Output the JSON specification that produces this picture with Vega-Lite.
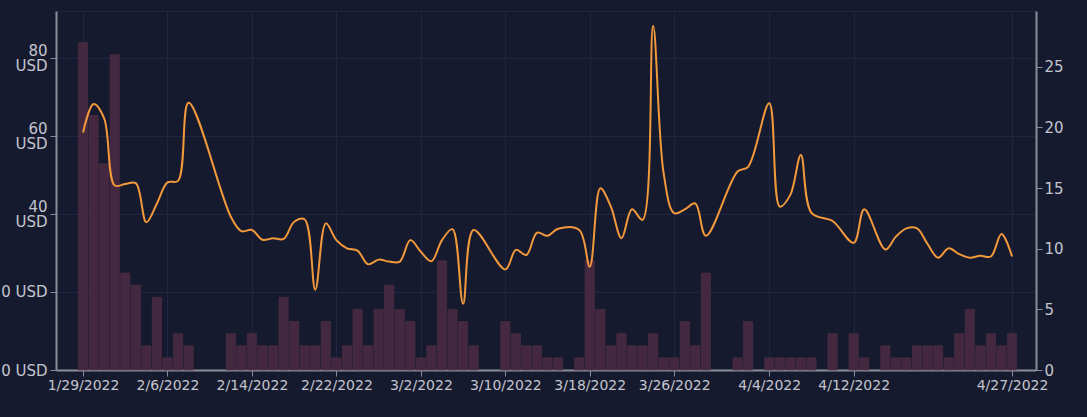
{
  "$schema": "https://vega.github.io/schema/vega-lite/v6.json",
  "width": 980,
  "height": 359,
  "autosize": {"type": "none"},
  "padding": {"left": 56, "top": 11, "right": 51, "bottom": 47},
  "background": "#161a2e",
  "config": {
    "view": {"stroke": "#1f2644", "strokeWidth": 1},
    "font": "DejaVu Sans",
    "axis": {
      "labelFont": "DejaVu Sans",
      "labelFontSize": 15,
      "labelColor": "#c3c5cf",
      "domainColor": "#8a8d99",
      "domainWidth": 2,
      "tickColor": "#8a8d99",
      "tickSize": 6,
      "gridColor": "#1f2644",
      "gridWidth": 1,
      "title": null
    }
  },
  "data": {
    "values": [
      {"date": "2022-01-29", "count": 27, "price": 60.9},
      {"date": "2022-01-30", "count": 21, "price": 68.2},
      {"date": "2022-01-31", "count": 17, "price": 64.5},
      {"date": "2022-02-01", "count": 26, "price": 47.3},
      {"date": "2022-02-02", "count": 8, "price": 47.7},
      {"date": "2022-02-03", "count": 7, "price": 47.9},
      {"date": "2022-02-04", "count": 2, "price": 37.9},
      {"date": "2022-02-05", "count": 6, "price": 42.7},
      {"date": "2022-02-06", "count": 1, "price": 48.1},
      {"date": "2022-02-07", "count": 3, "price": 48.5},
      {"date": "2022-02-08", "count": 2, "price": 68.5},
      {"date": "2022-02-12", "count": 3, "price": 39.3},
      {"date": "2022-02-13", "count": 2, "price": 35.6},
      {"date": "2022-02-14", "count": 3, "price": 35.9},
      {"date": "2022-02-15", "count": 2, "price": 33.4},
      {"date": "2022-02-16", "count": 2, "price": 33.8},
      {"date": "2022-02-17", "count": 6, "price": 33.6},
      {"date": "2022-02-18", "count": 4, "price": 38.0},
      {"date": "2022-02-19", "count": 2, "price": 38.6},
      {"date": "2022-02-20", "count": 2, "price": 20.6},
      {"date": "2022-02-21", "count": 4, "price": 37.6},
      {"date": "2022-02-22", "count": 1, "price": 33.3},
      {"date": "2022-02-23", "count": 2, "price": 31.2},
      {"date": "2022-02-24", "count": 5, "price": 30.6},
      {"date": "2022-02-25", "count": 2, "price": 27.1},
      {"date": "2022-02-26", "count": 5, "price": 28.3},
      {"date": "2022-02-27", "count": 7, "price": 27.8},
      {"date": "2022-02-28", "count": 5, "price": 27.8},
      {"date": "2022-03-01", "count": 4, "price": 33.3},
      {"date": "2022-03-02", "count": 1, "price": 30.3},
      {"date": "2022-03-03", "count": 2, "price": 27.9},
      {"date": "2022-03-04", "count": 9, "price": 33.3},
      {"date": "2022-03-05", "count": 5, "price": 36.1},
      {"date": "2022-03-06", "count": 4, "price": 17.0},
      {"date": "2022-03-07", "count": 2, "price": 35.9},
      {"date": "2022-03-10", "count": 4, "price": 25.8},
      {"date": "2022-03-11", "count": 3, "price": 30.8},
      {"date": "2022-03-12", "count": 2, "price": 29.5},
      {"date": "2022-03-13", "count": 2, "price": 35.2},
      {"date": "2022-03-14", "count": 1, "price": 34.4},
      {"date": "2022-03-15", "count": 1, "price": 36.2},
      {"date": "2022-03-17", "count": 1, "price": 35.9},
      {"date": "2022-03-18", "count": 9, "price": 26.5},
      {"date": "2022-03-19", "count": 5, "price": 46.6},
      {"date": "2022-03-20", "count": 2, "price": 41.9},
      {"date": "2022-03-21", "count": 3, "price": 33.8},
      {"date": "2022-03-22", "count": 2, "price": 41.2},
      {"date": "2022-03-23", "count": 2, "price": 38.5},
      {"date": "2022-03-24", "count": 3, "price": 88.2},
      {"date": "2022-03-25", "count": 1, "price": 50.4},
      {"date": "2022-03-26", "count": 1, "price": 40.2},
      {"date": "2022-03-27", "count": 4, "price": 41.2},
      {"date": "2022-03-28", "count": 2, "price": 42.7},
      {"date": "2022-03-29", "count": 8, "price": 34.4},
      {"date": "2022-04-01", "count": 1, "price": 50.9},
      {"date": "2022-04-02", "count": 4, "price": 52.1},
      {"date": "2022-04-04", "count": 1, "price": 68.4},
      {"date": "2022-04-05", "count": 1, "price": 41.9},
      {"date": "2022-04-06", "count": 1, "price": 44.9},
      {"date": "2022-04-07", "count": 1, "price": 55.1},
      {"date": "2022-04-08", "count": 1, "price": 40.3},
      {"date": "2022-04-10", "count": 3, "price": 38.2},
      {"date": "2022-04-12", "count": 3, "price": 32.6},
      {"date": "2022-04-13", "count": 1, "price": 41.2},
      {"date": "2022-04-15", "count": 2, "price": 30.9},
      {"date": "2022-04-16", "count": 1, "price": 34.2},
      {"date": "2022-04-17", "count": 1, "price": 36.3},
      {"date": "2022-04-18", "count": 2, "price": 36.3},
      {"date": "2022-04-19", "count": 2, "price": 32.3},
      {"date": "2022-04-20", "count": 2, "price": 28.8},
      {"date": "2022-04-21", "count": 1, "price": 31.2},
      {"date": "2022-04-22", "count": 3, "price": 29.7},
      {"date": "2022-04-23", "count": 5, "price": 28.8},
      {"date": "2022-04-24", "count": 2, "price": 29.3},
      {"date": "2022-04-25", "count": 3, "price": 29.1},
      {"date": "2022-04-26", "count": 2, "price": 34.9},
      {"date": "2022-04-27", "count": 3, "price": 29.1}
    ]
  },
  "encoding": {
    "x": {
      "field": "date",
      "type": "temporal",
      "scale": {
        "type": "utc",
        "padding": 0,
        "domain": [
          {"year": 2022, "month": 1, "date": 26, "hours": 10, "minutes": 32, "utc": true},
          {"year": 2022, "month": 4, "date": 29, "hours": 6, "minutes": 30, "utc": true}
        ]
      },
      "axis": {
        "labelExpr": "utcFormat(datum.value, '%-m/%-d/%Y')",
        "labelFontSize": 14,
        "labelPadding": 2,
        "labelAngle": 0,
        "labelFlush": false,
        "labelOverlap": false,
        "values": [
          {"year": 2022, "month": 1, "date": 29, "utc": true},
          {"year": 2022, "month": 2, "date": 6, "utc": true},
          {"year": 2022, "month": 2, "date": 14, "utc": true},
          {"year": 2022, "month": 2, "date": 22, "utc": true},
          {"year": 2022, "month": 3, "date": 2, "utc": true},
          {"year": 2022, "month": 3, "date": 10, "utc": true},
          {"year": 2022, "month": 3, "date": 18, "utc": true},
          {"year": 2022, "month": 3, "date": 26, "utc": true},
          {"year": 2022, "month": 4, "date": 4, "utc": true},
          {"year": 2022, "month": 4, "date": 12, "utc": true},
          {"year": 2022, "month": 4, "date": 27, "utc": true}
        ]
      }
    }
  },
  "layer": [
    {
      "mark": {"type": "bar", "width": 9.3, "color": "#44283f", "stroke": "#4d2f47", "strokeWidth": 0.6},
      "encoding": {
        "y": {
          "field": "count",
          "type": "quantitative",
          "scale": {"domain": [0, 29.6], "nice": false},
          "axis": {
            "orient": "right",
            "values": [0, 5, 10, 15, 20, 25],
            "grid": false,
            "labelPadding": 2
          }
        }
      }
    },
    {
      "mark": {"type": "line", "interpolate": "catmull-rom", "color": "#f2993b", "strokeWidth": 2},
      "encoding": {
        "y": {
          "field": "price",
          "type": "quantitative",
          "scale": {"domain": [0, 92.05], "nice": false},
          "axis": {
            "orient": "left",
            "values": [0, 20, 40, 60, 80],
            "grid": true,
            "labelPadding": 3,
            "labelLineHeight": 15,
            "labelOffset": {"condition": {"test": "datum.value >= 40", "value": -7.5}, "value": 0},
            "labelExpr": "datum.value >= 40 ? [datum.label, 'USD'] : datum.label + ' USD'"
          }
        }
      }
    }
  ],
  "resolve": {"scale": {"y": "independent"}}
}
